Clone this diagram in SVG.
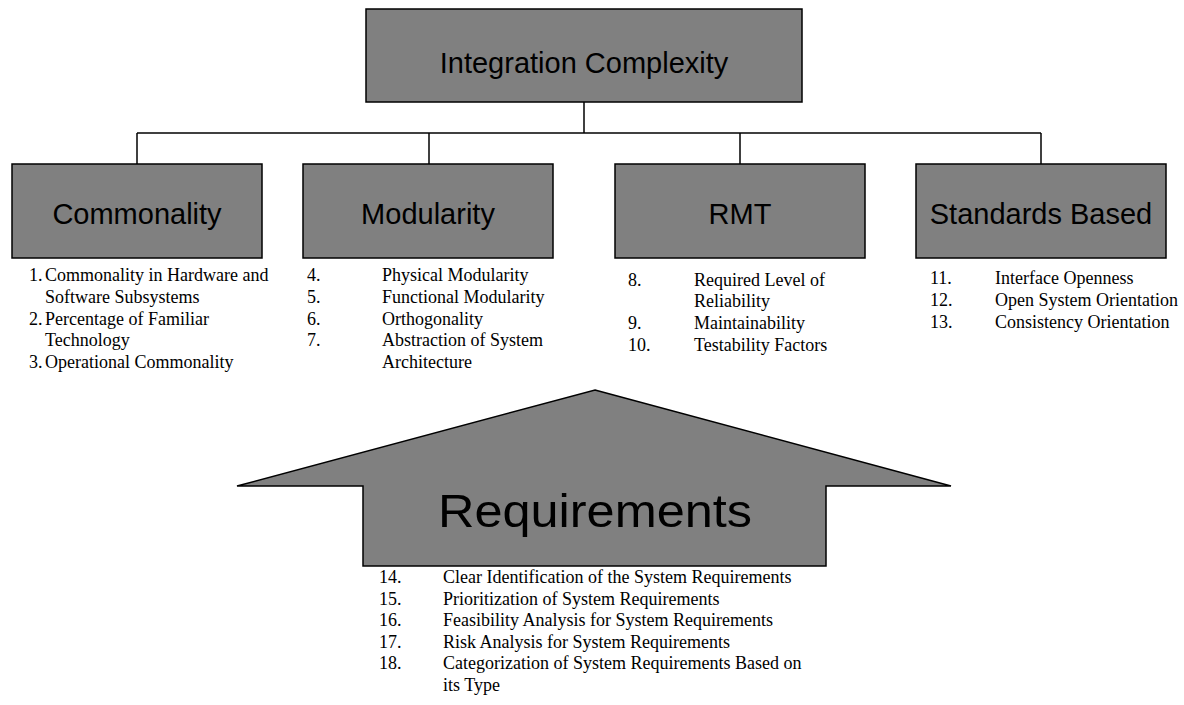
<svg xmlns="http://www.w3.org/2000/svg" width="1184" height="705" viewBox="0 0 1184 705">
<style>
.box{fill:#808080;stroke:#000;stroke-width:1.5}
.conn{stroke:#000;stroke-width:1.5;fill:none}
.title{font-family:"Liberation Sans",Arial,sans-serif;font-size:29px;fill:#000;text-anchor:middle}
.big{font-family:"Liberation Sans",Arial,sans-serif;font-size:47px;fill:#000;text-anchor:middle}
.li{font-family:"Liberation Serif","Times New Roman",serif;font-size:18px;fill:#000}
</style>
<rect width="1184" height="705" fill="#fff"/>
<g id="connectors">
<line class="conn" x1="584" y1="102" x2="584" y2="133"/>
<line class="conn" x1="137" y1="133" x2="1041" y2="133"/>
<line class="conn" x1="137" y1="133" x2="137" y2="164"/>
<line class="conn" x1="429" y1="133" x2="429" y2="164"/>
<line class="conn" x1="740" y1="133" x2="740" y2="164"/>
<line class="conn" x1="1041" y1="133" x2="1041" y2="164"/>
</g>
<g id="integration-complexity">
<rect class="box" x="366" y="9" width="436" height="93"/>
<text class="title" x="584" y="73">Integration Complexity</text>
</g>
<g id="commonality">
<rect class="box" x="12" y="164" width="250" height="94"/>
<text class="title" x="137" y="224">Commonality</text>
<text class="li" x="29" y="281">1.</text><text class="li" x="45" y="281">Commonality in Hardware and</text>
<text class="li" x="45" y="303">Software Subsystems</text>
<text class="li" x="29" y="324.5">2.</text><text class="li" x="45" y="324.5">Percentage of Familiar</text>
<text class="li" x="45" y="346">Technology</text>
<text class="li" x="29" y="367.5">3.</text><text class="li" x="45" y="367.5">Operational Commonality</text>
</g>
<g id="modularity">
<rect class="box" x="303" y="164" width="250" height="94"/>
<text class="title" x="428" y="224">Modularity</text>
<text class="li" x="307" y="281">4.</text><text class="li" x="382" y="281">Physical Modularity</text>
<text class="li" x="307" y="303">5.</text><text class="li" x="382" y="303">Functional Modularity</text>
<text class="li" x="307" y="324.5">6.</text><text class="li" x="382" y="324.5">Orthogonality</text>
<text class="li" x="307" y="346">7.</text><text class="li" x="382" y="346">Abstraction of System</text>
<text class="li" x="382" y="367.5">Architecture</text>
</g>
<g id="rmt">
<rect class="box" x="615" y="164" width="250" height="94"/>
<text class="title" x="740" y="224">RMT</text>
<text class="li" x="628" y="285.5">8.</text><text class="li" x="694" y="285.5">Required Level of</text>
<text class="li" x="694" y="307">Reliability</text>
<text class="li" x="628" y="329">9.</text><text class="li" x="694" y="329">Maintainability</text>
<text class="li" x="628" y="351">10.</text><text class="li" x="694" y="351">Testability Factors</text>
</g>
<g id="standards-based">
<rect class="box" x="916" y="164" width="250" height="94"/>
<text class="title" x="1041" y="224">Standards Based</text>
<text class="li" x="930" y="284">11.</text><text class="li" x="995" y="284">Interface Openness</text>
<text class="li" x="930" y="306">12.</text><text class="li" x="995" y="306">Open System Orientation</text>
<text class="li" x="930" y="328">13.</text><text class="li" x="995" y="328">Consistency Orientation</text>
</g>
<g id="requirements">
<polygon class="box" points="595,390 951,486 826,486 826,566 363,566 363,486 237,486"/>
<text class="big" x="595" y="527" textLength="314" lengthAdjust="spacingAndGlyphs">Requirements</text>
<text class="li" x="379" y="583">14.</text><text class="li" x="443" y="583">Clear Identification of the System Requirements</text>
<text class="li" x="379" y="604.5">15.</text><text class="li" x="443" y="604.5">Prioritization of System Requirements</text>
<text class="li" x="379" y="626">16.</text><text class="li" x="443" y="626">Feasibility Analysis for System Requirements</text>
<text class="li" x="379" y="647.5">17.</text><text class="li" x="443" y="647.5">Risk Analysis for System Requirements</text>
<text class="li" x="379" y="669">18.</text><text class="li" x="443" y="669">Categorization of System Requirements Based on</text>
<text class="li" x="443" y="690.5">its Type</text>
</g>
</svg>
